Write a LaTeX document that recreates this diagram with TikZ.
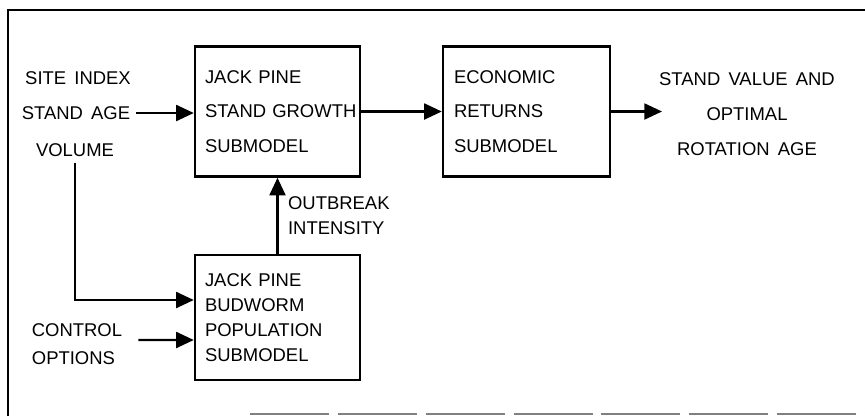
\documentclass[tikz,border=0pt]{standalone}
\usepackage{fontspec}
\setmainfont{Liberation Sans}[WordSpace=1.6]
\usetikzlibrary{arrows.meta, positioning}

\begin{document}
\begin{tikzpicture}[
    x=0.02cm, y=-0.02cm,
    model/.style={rectangle, draw=black, line width=1.4pt, minimum width=3.3cm, minimum height=2.6cm, inner xsep=0.2cm, text width=2.9cm, align=left, font=\fontsize{10.5}{19.8}\selectfont},
    inputtxt/.style={font=\fontsize{10.5}{19.8}\selectfont},
    flow/.style={-{Triangle[length=10pt, width=9pt]}, line width=1.4pt}
]
    \useasboundingbox (0,0) rectangle (865,416);

    % Frame
    \draw[line width=1.4pt] (8,416) -- (8,10) -- (865,10);
    \draw[line width=0.8pt, black!50, dash pattern=on 45pt off 5pt] (250,414) -- (865,414);

    % Inputs
    \node[inputtxt] (siteindex) at (78,78) {SITE INDEX};
    \node[inputtxt] (standage) at (76,113) {STAND AGE};
    \node[inputtxt] (volume) at (75,150) {VOLUME};

    % Submodels
    \node[model] (growth) at (277.5,111.5) {JACK PINE\\STAND~GROWTH\\SUBMODEL};
    \node[model, minimum width=3.34cm] (economic) at (526.5,111.5) {ECONOMIC\\RETURNS\\SUBMODEL};
    \node[model, minimum height=2.5cm, inner xsep=0.17cm, font=\fontsize{10.5}{14.2}\selectfont] (budworm) at (277.5,317.5) {JACK PINE\\BUDWORM\\POPULATION\\SUBMODEL};

    % Outputs
    \node[inputtxt, align=center] (result) at (747,114) {STAND VALUE AND\\OPTIMAL\\ROTATION AGE};
    \coordinate (outtip) at (662,111.5);

    \node[align=left, font=\fontsize{10.5}{15.9}\selectfont] (control) at (77,344) {CONTROL\\OPTIONS};

    % Connectors
    \draw[flow] (standage.east) -- (standage.east -| growth.west);
    \draw[flow] (growth) -- (economic);
    \draw[flow] (economic) -- (outtip);
    \draw[flow] (volume.south) |- ([yshift=0.35cm]budworm.west);
    \draw[flow] ([xshift=0.2cm, yshift=0.08cm]control.east) -- ([yshift=-0.45cm]budworm.west);
    \draw[flow] (budworm) -- (growth) node[midway, right, xshift=2pt, align=left, font=\fontsize{10.5}{14.2}\selectfont] (intensity) {OUTBREAK\\INTENSITY};

\end{tikzpicture}
\end{document}
